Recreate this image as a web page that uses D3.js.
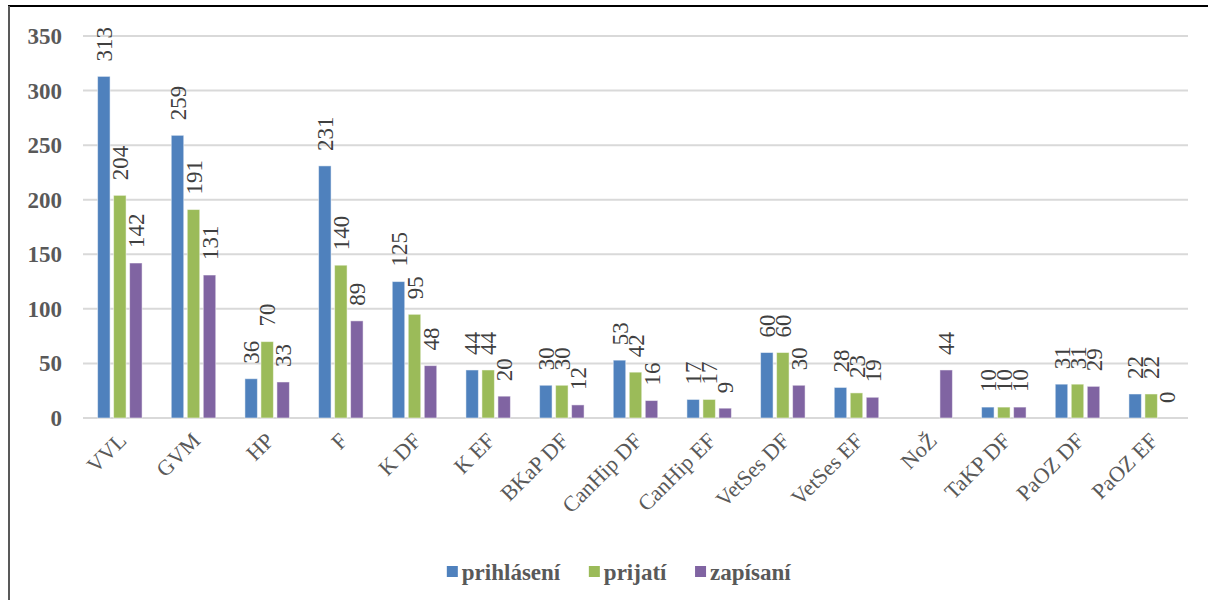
<!DOCTYPE html>
<html>
<head>
<meta charset="utf-8">
<script src="https://cdn.jsdelivr.net/npm/d3@7"></script>
<style>
  body { margin: 0; background: #fff; }
  svg { display: block; }
  text { font-family: "Liberation Serif", "Times New Roman", serif; }
</style>
</head>
<body>
<div id="chart"></div>
<script>
var categories = ["VVL", "GVM", "HP", "F", "K DF", "K EF", "BKaP DF", "CanHip DF", "CanHip EF", "VetSes DF", "VetSes EF", "NoŽ", "TaKP DF", "PaOZ DF", "PaOZ EF"];
var seriesNames = ["prihlásení", "prijatí", "zapísaní"];
var prihlaseni = [313, 259, 36, 231, 125, 44, 30, 53, 17, 60, 28, null, 10, 31, 22];
var prijati    = [204, 191, 70, 140, 95, 44, 30, 42, 17, 60, 23, null, 10, 31, 22];
var zapisani   = [142, 131, 33, 89, 48, 20, 12, 16, 9, 30, 19, 44, 10, 29, 0];
var yTicks = [0, 50, 100, 150, 200, 250, 300, 350];
var colors = ["#4f81bd", "#9bbb59", "#8064a2"];

var W = 1208, H = 600;
var svg = d3.select("#chart").append("svg").attr("width", W).attr("height", H);

// frame
svg.append("line").attr("x1", 8).attr("x2", W).attr("y1", 6).attr("y2", 6)
  .attr("stroke", "#000").attr("stroke-width", 2);
svg.append("line").attr("x1", 9).attr("x2", 9).attr("y1", 6).attr("y2", H)
  .attr("stroke", "#595959").attr("stroke-width", 2);

var x0 = d3.scaleBand().domain(categories).range([83, 1188]);
var x1 = d3.scaleBand().domain(seriesNames).range([-22.25, 22.25]).paddingInner(0.22);
var y = d3.scaleLinear().domain([0, 350]).range([418, 36]);
var color = d3.scaleOrdinal().domain(seriesNames).range(colors);

// gridlines
svg.append("g").selectAll("line").data(yTicks).enter().append("line")
  .attr("x1", 83).attr("x2", 1188)
  .attr("y1", function(d) { return y(d); }).attr("y2", function(d) { return y(d); })
  .attr("stroke", "#d9d9d9").attr("stroke-width", 2);

// y labels
svg.append("g").selectAll("text").data(yTicks).enter().append("text")
  .attr("x", 62).attr("y", function(d) { return y(d); })
  .attr("dy", "0.35em")
  .attr("text-anchor", "end")
  .attr("font-size", 23).attr("font-weight", "bold")
  .attr("fill", "#595959")
  .text(function(d) { return d; });

var rows = categories.map(function(c, i) {
  return { cat: c, vals: [prihlaseni[i], prijati[i], zapisani[i]] };
});

var group = svg.append("g").selectAll(".grp").data(rows).enter().append("g")
  .attr("class", "grp")
  .attr("transform", function(d) { return "translate(" + (x0(d.cat) + x0.bandwidth() / 2) + ",0)"; });

var cells = group.selectAll(".cell")
  .data(function(d) {
    return seriesNames.map(function(s, j) { return { key: s, value: d.vals[j] }; })
      .filter(function(e) { return e.value !== null; });
  })
  .enter().append("g").attr("class", "cell");

cells.append("rect")
  .attr("x", function(d) { return x1(d.key); })
  .attr("y", function(d) { return y(d.value); })
  .attr("width", x1.bandwidth())
  .attr("height", function(d) { return y(0) - y(d.value); })
  .attr("fill", function(d) { return color(d.key); })
  .attr("stroke", "#fff").attr("stroke-opacity", 0.5).attr("stroke-width", 1);

cells.append("text")
  .attr("transform", function(d) {
    return "translate(" + (x1(d.key) + x1.bandwidth() / 2) + "," + (y(d.value) - 15) + ") rotate(-90)";
  })
  .attr("dy", "0.35em")
  .attr("font-size", 23)
  .attr("fill", "#404040")
  .text(function(d) { return d.value; });

// x labels
svg.append("g").selectAll("text").data(categories).enter().append("text")
  .attr("transform", function(d) {
    return "translate(" + (x0(d) + x0.bandwidth() / 2 + 8) + ",442) rotate(-45)";
  })
  .attr("text-anchor", "end")
  .attr("font-size", 22)
  .attr("fill", "#595959")
  .text(function(d) { return d; });

// legend
var legend = svg.append("g").attr("transform", "translate(0,572)");
var items = legend.selectAll("g").data(seriesNames).enter().append("g");
items.append("rect").attr("width", 11).attr("height", 11).attr("y", -6)
  .attr("fill", function(d) { return color(d); });
items.append("text").attr("x", 15).attr("dy", "0.35em")
  .attr("font-size", 23).attr("font-weight", "bold")
  .attr("fill", "#595959")
  .text(function(d) { return d; });
var xpos = 0, gap = 28, widths = [];
items.each(function() { widths.push(this.getBBox().width); });
var total = d3.sum(widths) + gap * (widths.length - 1);
xpos = 619 - total / 2;
items.attr("transform", function(d, i) {
  var t = "translate(" + xpos + ",0)";
  xpos += widths[i] + gap;
  return t;
});
</script>
</body>
</html>
